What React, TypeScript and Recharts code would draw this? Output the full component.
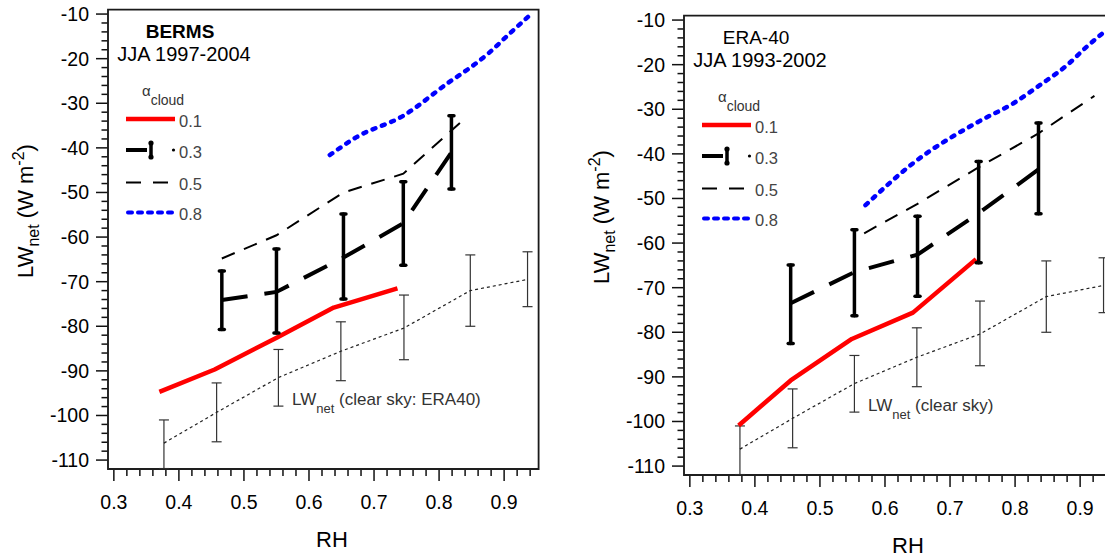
import { ComposedChart, Line, XAxis, YAxis, ErrorBar, ReferenceArea } from "recharts";

const FONT = '"Liberation Sans", Arial, sans-serif';

// clear-sky LWnet (ERA40) with its spread, drawn in both panels
const clearRH = [0.377, 0.458, 0.553, 0.649, 0.746, 0.848, 0.936];
const clearMean = [-106.2, -99.3, -91.5, -85.6, -80.4, -72.0, -69.5];
const clearTop = [-101.0, -92.7, -85.2, -79.0, -73.0, -64.0, -63.3];
const clearBottom = [-111.9, -105.9, -97.9, -92.2, -87.5, -80.0, -75.6];

// BERMS, JJA 1997-2004
const bermsRH01 = [0.37, 0.455, 0.551, 0.638, 0.736];
const bermsLW01 = [-94.7, -89.7, -82.5, -75.8, -71.5];
const bermsRH03 = [0.466, 0.55, 0.653, 0.745, 0.819];
const bermsLW03 = [-74.1, -72.3, -64.6, -56.9, -41.0];
const bermsTop03 = [-67.6, -62.7, -54.8, -47.6, -32.8];
const bermsBottom03 = [-80.7, -81.5, -73.9, -66.3, -49.2];
const bermsRH05 = [0.466, 0.55, 0.653, 0.745, 0.832];
const bermsLW05 = [-64.8, -59.6, -50.0, -45.8, -34.4];
const bermsRH08 = [0.632, 0.673, 0.745, 0.816, 0.848, 0.876, 0.909, 0.937];
const bermsLW08 = [-41.6, -37.6, -32.8, -25.2, -22.0, -18.8, -14.3, -10.6];

// ERA-40, JJA 1993-2002
const eraRH01 = [0.375, 0.455, 0.549, 0.643, 0.74];
const eraLW01 = [-100.9, -90.8, -81.5, -75.6, -63.6];
const eraRH03 = [0.455, 0.553, 0.65, 0.744, 0.836];
const eraLW03 = [-73.5, -66.5, -62.6, -53.3, -43.5];
const eraTop03 = [-64.9, -57.0, -54.0, -41.7, -33.1];
const eraBottom03 = [-82.5, -76.3, -71.9, -64.4, -53.4];
const eraRH05 = [0.568, 0.65, 0.743, 0.836, 0.922];
const eraLW05 = [-57.8, -51.2, -43.1, -35.4, -27.0];
const eraRH08 = [0.57, 0.645, 0.746, 0.797, 0.838, 0.88, 0.91, 0.94];
const eraLW08 = [-51.5, -41.9, -32.6, -28.7, -24.6, -20.1, -16.0, -12.3];

// axes
const xMajor = [0.3, 0.4, 0.5, 0.6, 0.7, 0.8, 0.9];
const yMajor = [-110, -100, -90, -80, -70, -60, -50, -40, -30, -20, -10];
const xTicks = Array.from({ length: 33 }, (_, i) => (30 + i * 2) / 100);
const yTicks = Array.from({ length: 51 }, (_, i) => -110 + i * 2);
const X_DOMAIN = [0.291, 0.953];
const Y_DOMAIN = [-112, -9];

// chart box: 560x558, plot area follows from the margins and axis sizes below
const MARGIN = { top: 9.6, right: 21.4, bottom: 59, left: 48 };
const Y_AXIS_W = 60;
const X_AXIS_H = 30;
const PLOT_L = MARGIN.left + Y_AXIS_W;
const PLOT_W = 560 - MARGIN.left - MARGIN.right - Y_AXIS_W;
const PLOT_H = 558 - MARGIN.top - MARGIN.bottom - X_AXIS_H;
const sx = (v: number) => PLOT_L + ((v - X_DOMAIN[0]) / (X_DOMAIN[1] - X_DOMAIN[0])) * PLOT_W;
const sy = (v: number) => MARGIN.top + ((Y_DOMAIN[1] - v) / (Y_DOMAIN[1] - Y_DOMAIN[0])) * PLOT_H;
const isMajorX = (v: number) => xMajor.some((m) => Math.abs(m - v) < 1e-6);

const rows = (xs: number[], ys: number[]) => xs.map((x, i) => ({ x, y: ys[i] }));
const rowsErr = (xs: number[], ys: number[], top: number[], bottom: number[]) =>
  xs.map((x, i) => ({ x, y: ys[i], err: [ys[i] - bottom[i], top[i] - ys[i]] }));

const clearRows = rowsErr(clearRH, clearMean, clearTop, clearBottom);

// tick labels (majors only); tick marks are drawn in the backdrop svg
function YTick(props: any) {
  const x = Number(props.x);
  const y = Number(props.y);
  const v = props.payload.value;
  if (!yMajor.includes(v)) return <g />;
  return (
    <text x={x - 19} y={y + 7} textAnchor="end" fontSize={19.5} fontFamily={FONT} fill="#000">
      {v}
    </text>
  );
}

function XTick(props: any) {
  const x = Number(props.x);
  const y = Number(props.y);
  const v = props.payload.value;
  if (!isMajorX(v)) return <g />;
  return (
    <text x={x} y={y + 40} textAnchor="middle" fontSize={19.5} fontFamily={FONT} fill="#000">
      {v.toFixed(1)}
    </text>
  );
}

function Overlay({ title, bold, period, note }: { title: string; bold: boolean; period: string; note: string }) {
  const plotBottom = MARGIN.top + PLOT_H;
  return (
    <svg width={560} height={558} style={{ position: "absolute", left: 0, top: 0 }} fontFamily={FONT}>
      {/* tick marks */}
      {yTicks.map((v) => (
        <line
          key={`y${v}`}
          x1={PLOT_L - (yMajor.includes(v) ? 12 : 6.5)}
          x2={PLOT_L}
          y1={sy(v)}
          y2={sy(v)}
          stroke="#111"
          strokeWidth={1.5}
        />
      ))}
      {xTicks.map((v) => (
        <line
          key={`x${v}`}
          x1={sx(v)}
          x2={sx(v)}
          y1={plotBottom}
          y2={plotBottom + (isMajorX(v) ? 12 : 7)}
          stroke="#111"
          strokeWidth={1.5}
        />
      ))}

      <text x={180} y={38} textAnchor="middle" fontSize={19} fontWeight={bold ? "bold" : "normal"}>
        {title}
      </text>
      <text x={184} y={61} textAnchor="middle" fontSize={20}>
        {period}
      </text>

      {/* legend */}
      <text x={142} y={96} fontSize={15} fill="#333">
        α<tspan fontSize={14} dy={9}>cloud</tspan>
      </text>
      <line x1={126} x2={175} y1={119} y2={119} stroke="#ff0000" strokeWidth={4.5} />
      <text x={179} y={127} fontSize={16.5} fill="#444">0.1</text>
      <line x1={126} x2={147} y1={150} y2={150} stroke="#000" strokeWidth={4} />
      <line x1={151} x2={151} y1={143} y2={157} stroke="#000" strokeWidth={3.5} />
      <circle cx={151} cy={143} r={2.6} fill="#000" />
      <circle cx={151} cy={157} r={2.6} fill="#000" />
      <circle cx={173.5} cy={150} r={1.6} fill="#000" />
      <text x={179} y={158} fontSize={16.5} fill="#444">0.3</text>
      <line x1={126} x2={168} y1={182.5} y2={182.5} stroke="#000" strokeWidth={2} strokeDasharray="15 12" />
      <text x={179} y={190} fontSize={16.5} fill="#444">0.5</text>
      <line
        x1={128}
        x2={173}
        y1={212.5}
        y2={212.5}
        stroke="#0000ff"
        strokeWidth={4}
        strokeDasharray="4 6"
        strokeLinecap="round"
      />
      <text x={179} y={220} fontSize={16.5} fill="#444">0.8</text>

      {/* clear-sky note */}
      <text x={292} y={405} fontSize={17} fill="#333">
        LW<tspan fontSize={13} dy={8}>net</tspan>
        <tspan dy={-8}> {note}</tspan>
      </text>

      {/* axis titles */}
      <text transform="translate(33,211) rotate(-90)" textAnchor="middle" fontSize={22} fill="#000">
        LW<tspan fontSize={16} dy={6}>net</tspan>
        <tspan dy={-6}> (W m</tspan>
        <tspan fontSize={16} dy={-9}>-2</tspan>
        <tspan dy={9}>)</tspan>
      </text>
      <text x={332} y={547} textAnchor="middle" fontSize={22} fill="#000">
        RH
      </text>
    </svg>
  );
}

interface PanelProps {
  left: number;
  top: number;
  title: string;
  bold: boolean;
  period: string;
  note: string;
  rh01: number[];
  lw01: number[];
  rh03: number[];
  lw03: number[];
  top03: number[];
  bottom03: number[];
  rh05: number[];
  lw05: number[];
  rh08: number[];
  lw08: number[];
}

function Panel(p: PanelProps) {
  return (
    <div style={{ position: "absolute", left: p.left, top: p.top, width: 560, height: 558 }}>
      {/* static texts and tick marks sit underneath the chart svg */}
      <Overlay title={p.title} bold={p.bold} period={p.period} note={p.note} />
      <ComposedChart width={560} height={558} margin={MARGIN}>
        <XAxis
          type="number"
          dataKey="x"
          domain={X_DOMAIN}
          allowDataOverflow
          ticks={xTicks}
          interval={0}
          tick={XTick}
          tickSize={0}
          tickMargin={0}
          height={X_AXIS_H}
          stroke="#222"
        />
        <YAxis
          type="number"
          domain={Y_DOMAIN}
          allowDataOverflow
          ticks={yTicks}
          interval={0}
          tick={YTick}
          tickSize={0}
          tickMargin={0}
          width={Y_AXIS_W}
          stroke="#222"
        />
        {/* plot frame */}
        <ReferenceArea
          x1={X_DOMAIN[0]}
          x2={X_DOMAIN[1]}
          y1={Y_DOMAIN[0]}
          y2={Y_DOMAIN[1]}
          ifOverflow="visible"
          fill="none"
          stroke="#1a1a1a"
          strokeWidth={1.8}
        />

        <Line
          data={clearRows}
          dataKey="y"
          type="linear"
          stroke="#222"
          strokeWidth={1.2}
          strokeDasharray="3 3"
          dot={false}
          activeDot={false}
          isAnimationActive={false}
        >
          <ErrorBar dataKey="err" direction="y" width={5} stroke="#333" strokeWidth={1.2} />
        </Line>
        <Line
          data={rows(p.rh01, p.lw01)}
          dataKey="y"
          type="linear"
          stroke="#ff0000"
          strokeWidth={4.5}
          strokeLinejoin="round"
          dot={false}
          activeDot={false}
          isAnimationActive={false}
        />
        <Line
          data={rows(p.rh05, p.lw05)}
          dataKey="y"
          type="linear"
          stroke="#000"
          strokeWidth={2}
          strokeDasharray="14 10"
          dot={false}
          activeDot={false}
          isAnimationActive={false}
        />
        <Line
          data={rows(p.rh08, p.lw08)}
          dataKey="y"
          type="monotone"
          stroke="#0000ff"
          strokeWidth={4.5}
          strokeDasharray="3 7"
          strokeLinecap="round"
          dot={false}
          activeDot={false}
          isAnimationActive={false}
        />
        <Line
          data={rowsErr(p.rh03, p.lw03, p.top03, p.bottom03)}
          dataKey="y"
          type="linear"
          stroke="#000"
          strokeWidth={4}
          strokeDasharray="26 17"
          dot={false}
          activeDot={false}
          isAnimationActive={false}
        >
          <ErrorBar dataKey="err" direction="y" width={2.5} stroke="#000" strokeWidth={3.5} strokeLinecap="round" />
        </Line>
      </ComposedChart>
    </div>
  );
}

export default function App() {
  return (
    <div
      style={{
        position: "fixed",
        left: 0,
        top: 0,
        width: 1105,
        height: 558,
        overflow: "hidden",
        background: "#fff",
      }}
    >
      <Panel
        left={0}
        top={0}
        title="BERMS"
        bold
        period="JJA 1997-2004"
        note="(clear sky: ERA40)"
        rh01={bermsRH01}
        lw01={bermsLW01}
        rh03={bermsRH03}
        lw03={bermsLW03}
        top03={bermsTop03}
        bottom03={bermsBottom03}
        rh05={bermsRH05}
        lw05={bermsLW05}
        rh08={bermsRH08}
        lw08={bermsLW08}
      />
      <Panel
        left={576}
        top={6}
        title="ERA-40"
        bold={false}
        period="JJA 1993-2002"
        note="(clear sky)"
        rh01={eraRH01}
        lw01={eraLW01}
        rh03={eraRH03}
        lw03={eraLW03}
        top03={eraTop03}
        bottom03={eraBottom03}
        rh05={eraRH05}
        lw05={eraLW05}
        rh08={eraRH08}
        lw08={eraLW08}
      />
    </div>
  );
}
